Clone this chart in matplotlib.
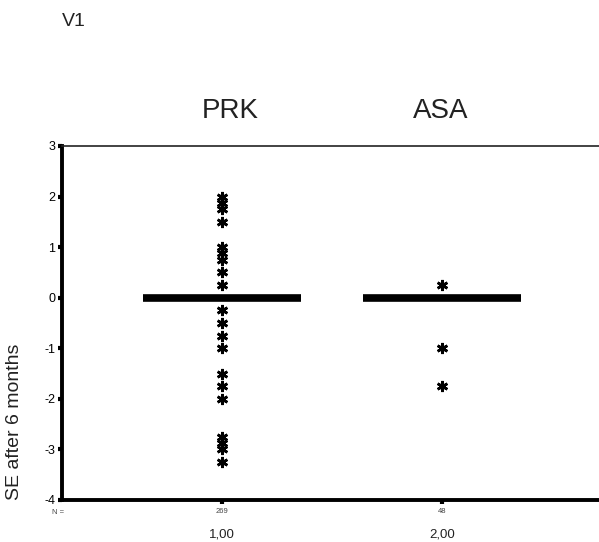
import matplotlib.pyplot as plt
import numpy as np

groups = ['PRK', 'ASA']
group_pos = [1, 2]
tick_labels = ['1,00', '2,00']
n_counts = ['269', '48']
medians = [0.0, 0.0]

# outliers / extremes per group (SE after 6 months)
prk_outliers = [2.0, 1.875, 1.75, 1.5,
                1.0, 0.875, 0.75, 0.5, 0.25,
                -0.25, -0.5, -0.75, -1.0,
                -1.5, -1.75, -2.0,
                -2.75, -2.875, -3.0, -3.25]
asa_outliers = [0.25, -1.0, -1.75]
outliers = [prk_outliers, asa_outliers]

plt.rcParams['font.family'] = ['Liberation Sans', 'DejaVu Sans']
plt.rcParams['axes.unicode_minus'] = False
fig = plt.figure(figsize=(5.99, 5.42), dpi=100)
ax = fig.add_axes([62 / 599, 1 - 500 / 542, 1 - 62 / 599, (500 - 146) / 542])

for pos, med, outs in zip(group_pos, medians, outliers):
    ax.plot([pos - 0.36, pos + 0.36], [med, med], color='black', lw=5.5,
            solid_capstyle='butt', zorder=2)
    ax.plot([pos] * len(outs), outs, linestyle='none', marker=(6, 2, 0),
            ms=8, mew=1.9, color='black', zorder=3)

ax.set_xlim(1 - 160 / 220, 2 + 157 / 220)
ax.set_ylim(-4, 3)
ax.set_yticks(np.arange(-4, 4, 1))
ax.set_xticks(group_pos)
ax.set_xticklabels(n_counts, fontsize=5.5, color='#444444')
ax.tick_params(axis='y', direction='out', length=3, width=3, labelsize=9, pad=2)
ax.tick_params(axis='x', direction='out', length=3, width=3, pad=3)

ax.spines['right'].set_visible(False)
ax.spines['left'].set_linewidth(2.8)
ax.spines['bottom'].set_linewidth(2.8)
ax.spines['top'].set_linewidth(1.2)
ax.spines['top'].set_color('#222222')

# group titles sit slightly off the category centres in the original
for pos, name, dx in zip(group_pos, groups, [0.036, -0.005]):
    ax.text(pos + dx, 3.69, name, ha='center', va='center', fontsize=20,
            color='#222222', clip_on=False)

for pos, lab in zip(group_pos, tick_labels):
    ax.text(pos, -4.68, lab, ha='center', va='center', fontsize=9.5,
            color='#222222', clip_on=False)

fig.text(52 / 599, 1 - 512 / 542, 'N =', fontsize=5.5, color='#444444', va='center')
fig.text(62 / 599, 1 - 22 / 542, 'V1', fontsize=14, va='center', ha='left', color='#222222')
fig.text(15 / 599, 1 - 422 / 542, 'SE after 6 months', rotation=90, fontsize=14,
         ha='center', va='center', color='#222222')

fig.savefig('out.png', dpi=100)
